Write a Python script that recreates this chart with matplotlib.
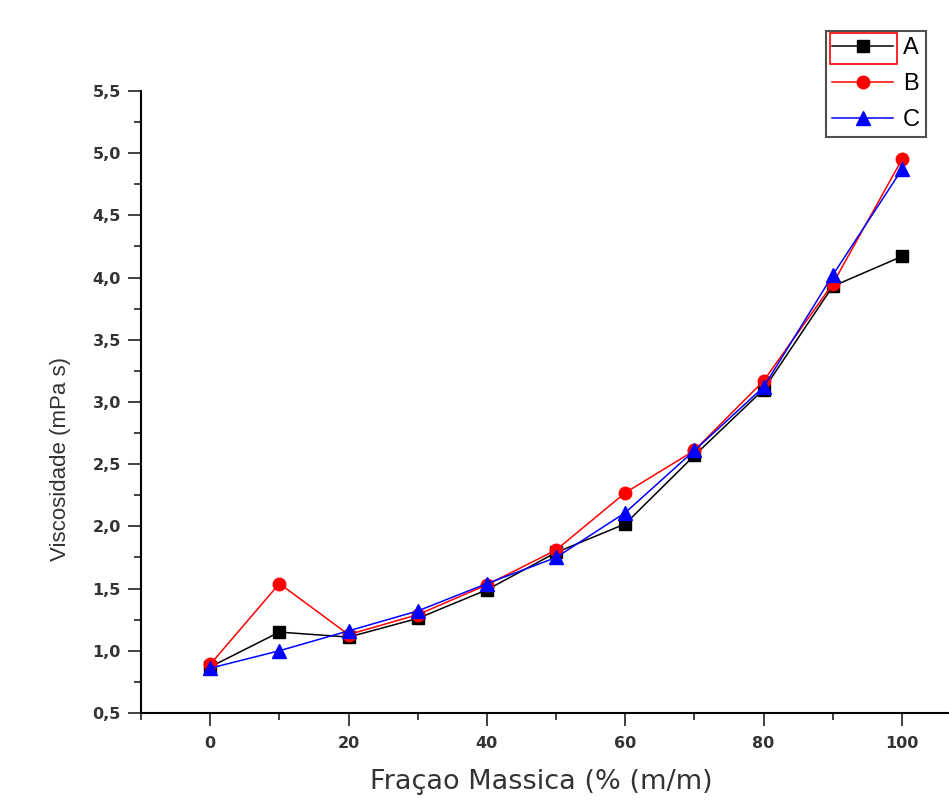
import matplotlib.pyplot as plt
from matplotlib.ticker import MultipleLocator, FuncFormatter
from matplotlib.patches import Rectangle

#%% data
fracao = [0, 10, 20, 30, 40, 50, 60, 70, 80, 90, 100]
visc_A = [0.87, 1.15, 1.11, 1.26, 1.49, 1.79, 2.02, 2.57, 3.10, 3.93, 4.17]
visc_B = [0.89, 1.54, 1.13, 1.29, 1.53, 1.81, 2.27, 2.61, 3.17, 3.95, 4.95]
visc_C = [0.86, 1.00, 1.16, 1.32, 1.54, 1.75, 2.11, 2.61, 3.12, 4.02, 4.87]
labels = ['A', 'B', 'C']

plt.rcParams['font.family'] = ['Liberation Sans', 'DejaVu Sans']

fig = plt.figure(figsize=(9.49, 8.10), dpi=100)
ax = fig.add_axes([0.1486, 0.1198, 0.8514, 0.7679])

ax.plot(fracao, visc_A, marker='s', color='black', markersize=9, linewidth=1.1, label=labels[0])
ax.plot(fracao, visc_B, marker='o', color='red', markersize=9, linewidth=1.1, label=labels[1])
ax.plot(fracao, visc_C, marker='^', color='blue', markersize=10, linewidth=1.1, label=labels[2])

ax.set_xlim(-10, 106.8)
ax.set_ylim(0.5, 5.5)
ax.spines['top'].set_visible(False)
ax.spines['right'].set_visible(False)
ax.spines['left'].set_linewidth(1.5)
ax.spines['bottom'].set_linewidth(1.5)

ax.xaxis.set_major_locator(MultipleLocator(20))
ax.xaxis.set_minor_locator(MultipleLocator(10))
ax.yaxis.set_major_locator(MultipleLocator(0.5))
ax.yaxis.set_minor_locator(MultipleLocator(0.25))
ax.yaxis.set_major_formatter(FuncFormatter(lambda v, p: ('%.1f' % v).replace('.', ',')))
ax.tick_params(which='major', direction='out', length=9.5, width=1.3, labelsize=11.5, colors='#333333')
ax.tick_params(which='minor', direction='out', length=5, width=1.3, colors='#333333')
ax.tick_params(axis='x', which='major', pad=7)
ax.tick_params(axis='y', which='major', pad=5)
for t in ax.get_yticklabels() + ax.get_xticklabels():
    t.set_fontweight('bold')
    t.set_family('DejaVu Sans')

ax.set_xlabel('Fraçao Massica (% (m/m)', fontsize=19.5, color='#333333', family='DejaVu Sans')
ax.xaxis.set_label_coords((541 - 141) / 808, -(782 - 713) / 622)
ax.xaxis.label.set_va('center')
ax.set_ylabel('Viscosidade (mPa s)', fontsize=16, color='#333333')
ax.yaxis.set_label_coords((60 - 141) / 808, (713 - 459) / 622)
ax.yaxis.label.set_va('center')

leg = fig.legend(loc='upper left', bbox_to_anchor=(826 / 949, 1 - 31 / 810), fontsize=17,
                 frameon=True, fancybox=False, edgecolor='#222222',
                 handlelength=2.6, handletextpad=0.4, borderpad=0.25, labelspacing=0.6,
                 borderaxespad=0)
leg.get_frame().set_linewidth(1.5)

# red selection box around the first legend entry
fig.patches.append(Rectangle((830 / 949, 1 - 64 / 810), 67 / 949, 31 / 810,
                             transform=fig.transFigure, fill=False, edgecolor='red',
                             linewidth=1.2, zorder=10))

fig.savefig('out.png', dpi=100)
